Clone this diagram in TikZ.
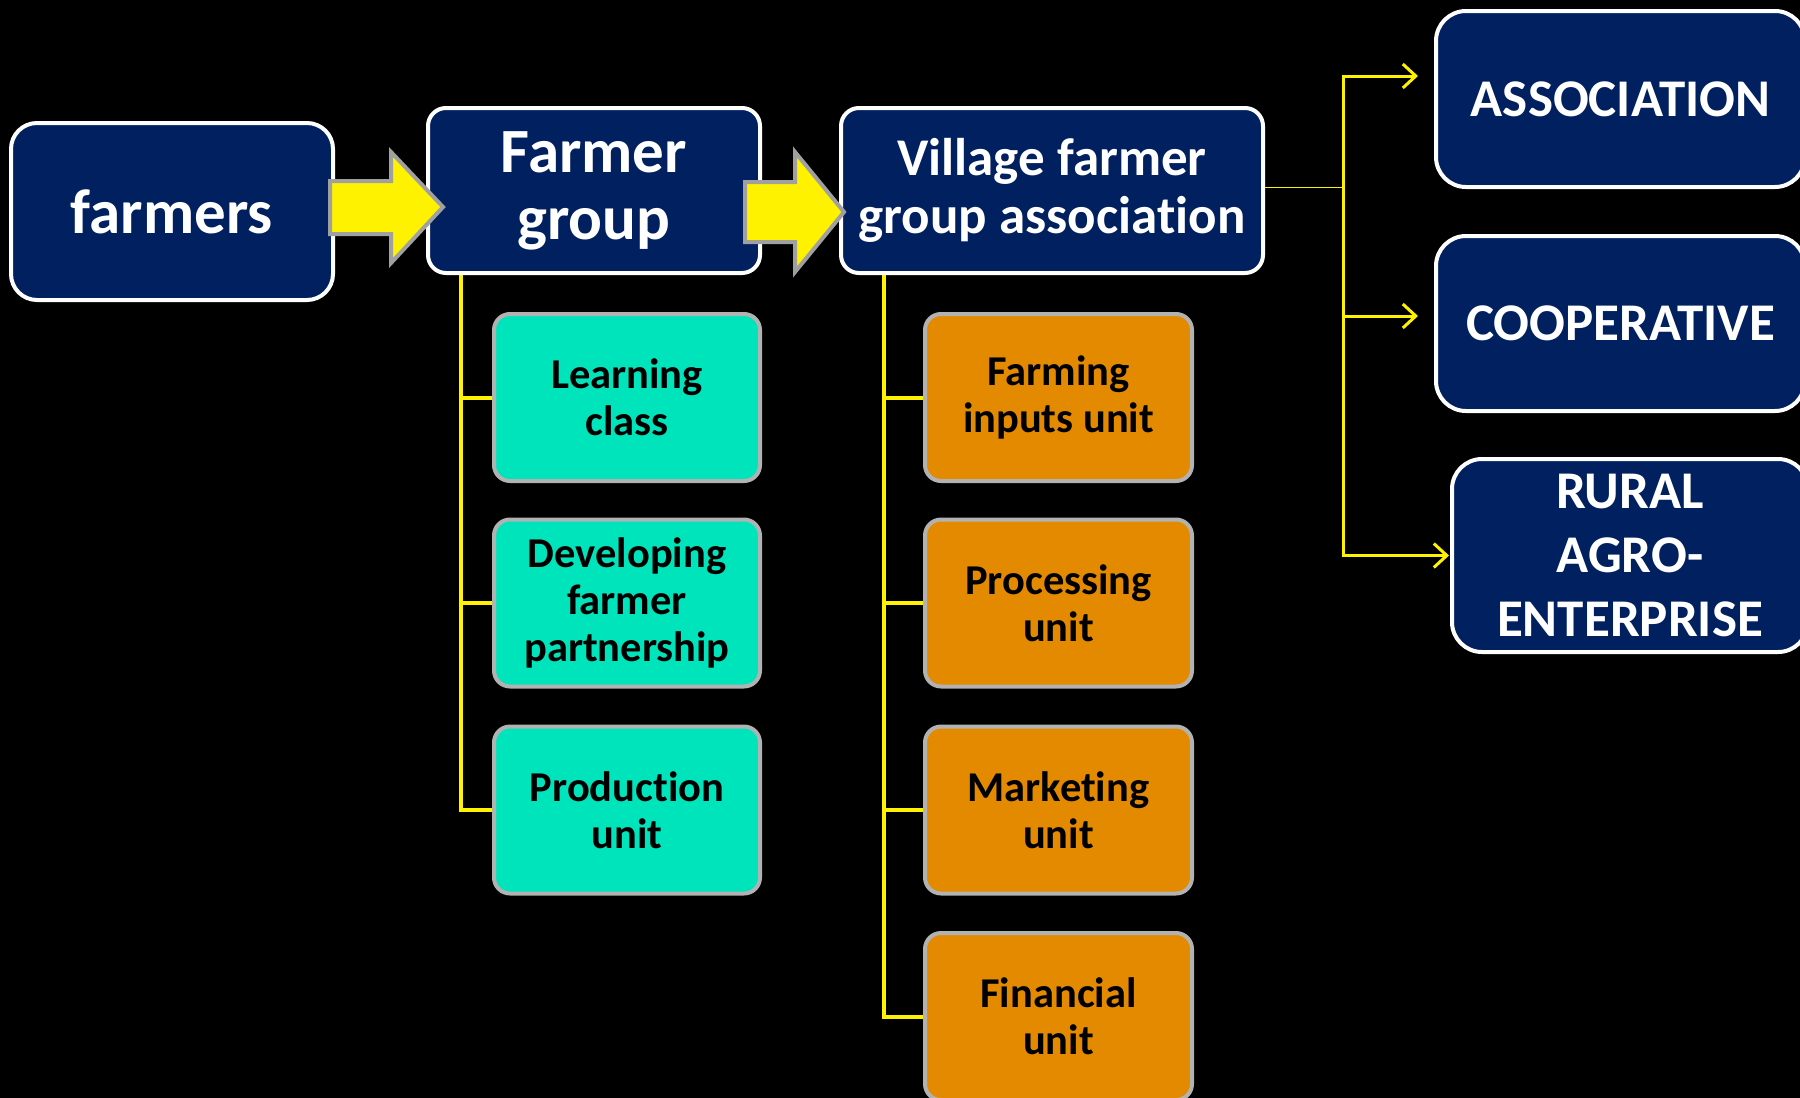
\documentclass[tikz,border=0pt]{standalone}
\usepackage{fontspec}
\setmainfont{Carlito}[Ligatures=NoCommon]
\usetikzlibrary{calc,arrows.meta}
\definecolor{navy}{RGB}{0,32,96}
\definecolor{tealbox}{RGB}{0,228,188}
\definecolor{orangebox}{RGB}{228,138,0}
\definecolor{boxgray}{RGB}{178,178,178}
\definecolor{arrgray}{RGB}{160,160,160}
\begin{document}
\begin{tikzpicture}[x=1pt,y=-1pt,
  navybox/.style={rectangle, fill=navy, draw=white, line width=4pt, text=white, align=center, inner sep=0pt},
  unitbox/.style={rectangle, draw=boxgray, line width=4pt, text=black, align=center, inner sep=0pt,
    minimum height=167pt, rounded corners=16pt, font=\bfseries\fontsize{42.5}{47}\selectfont},
  tealunit/.style={unitbox, fill=tealbox, minimum width=266pt},
  orangeunit/.style={unitbox, fill=orangebox, minimum width=267pt},
  blockarr/.style={fill=yellow, draw=arrgray, line width=4pt, line join=miter},
  treeline/.style={draw=yellow, line width=4pt},
  outarrow/.style={draw=yellow, line width=3pt, -{Straight Barb[length=13pt,width=24pt,line width=3pt]}},
]
\fill[black] (0,0) rectangle (1800,1098);
\useasboundingbox (0,0) rectangle (1800,1098);
\clip (0,0) rectangle (1800,1098);

% main chain
\node[navybox, minimum width=322pt, minimum height=177pt, rounded corners=26pt,
  font=\bfseries\fontsize{63}{67}\selectfont] (farmers) at (172,211.5) {farmers};
\node[navybox, minimum width=332pt, minimum height=165pt, rounded corners=18pt,
  font=\bfseries\fontsize{63}{67}\selectfont] (fgroup) at (594,190.5) {Farmer\\group};
\node[navybox, minimum width=422pt, minimum height=165pt, rounded corners=18pt,
  font=\bfseries\fontsize{53}{58}\selectfont] (village) at (1052,190.5) {Village farmer\\group association};

% right boxes
\node[navybox, minimum width=369pt, minimum height=176pt, rounded corners=30pt,
  font=\bfseries\fontsize{53}{64}\selectfont] (assoc) at (1620.5,99) {ASSOCIATION};
\node[navybox, minimum width=369pt, minimum height=175pt, rounded corners=30pt,
  font=\bfseries\fontsize{53}{64}\selectfont] (coop) at (1620.5,323.5) {COOPERATIVE};
\node[navybox, minimum width=356pt, minimum height=193pt, rounded corners=30pt,
  font=\bfseries\fontsize{53}{64}\selectfont] (rural) at (1630,555.5) {RURAL\\AGRO-\\ENTERPRISE};

% teal units
\node[tealunit] (lc) at (627,397.5) {Learning\\class};
\node[tealunit] (dfp) at (627,603) {Developing\\farmer\\partnership};
\node[tealunit] (pu) at (627,810) {Production\\unit};

% orange units
\node[orangeunit] (fi) at (1058.5,397.5) {Farming\\inputs unit};
\node[orangeunit] (pr) at (1058.5,603) {Processing\\unit};
\node[orangeunit] (mk) at (1058.5,810) {Marketing\\unit};
\node[orangeunit] (fn) at (1058.5,1016.5) {Financial\\unit};

% block arrows
\coordinate (t1) at ($(fgroup.west)+(17,16.5)$);
\draw[blockarr] (t1) -- ++(-52,-55) -- ++(0,29) -- ++(-61,0) -- ++(0,53) -- ++(61,0) -- ++(0,29) -- cycle;
\coordinate (t2) at ($(village.west)+(5,21.5)$);
\draw[blockarr] (t2) -- ++(-49,-60) -- ++(0,30) -- ++(-50,0) -- ++(0,60) -- ++(50,0) -- ++(0,30) -- cycle;

% tree lines (teal)
\coordinate (tr1) at ([xshift=-133pt]fgroup.south);
\draw[treeline] (tr1) |- (lc.west);
\draw[treeline] (tr1) |- (dfp.west);
\draw[treeline] (tr1) |- (pu.west);

% tree lines (orange)
\coordinate (tr2) at ([xshift=-168pt]village.south);
\draw[treeline] (tr2) |- (fi.west);
\draw[treeline] (tr2) |- (pr.west);
\draw[treeline] (tr2) |- (mk.west);
\draw[treeline] (tr2) |- (fn.west);

% right connectors
\coordinate (vo) at ([yshift=3pt]village.east);
\coordinate (hub) at ($(vo)+(78,0)$);
\draw[yellow, line width=1.5pt] (vo) -- (hub);
\draw[outarrow] (hub) |- ([xshift=-16pt,yshift=23pt]assoc.west);
\draw[outarrow] (hub) |- ([xshift=-16pt,yshift=7.5pt]coop.west);
\draw[outarrow] (hub) |- ([xshift=-1pt]rural.west);
\end{tikzpicture}
\end{document}
